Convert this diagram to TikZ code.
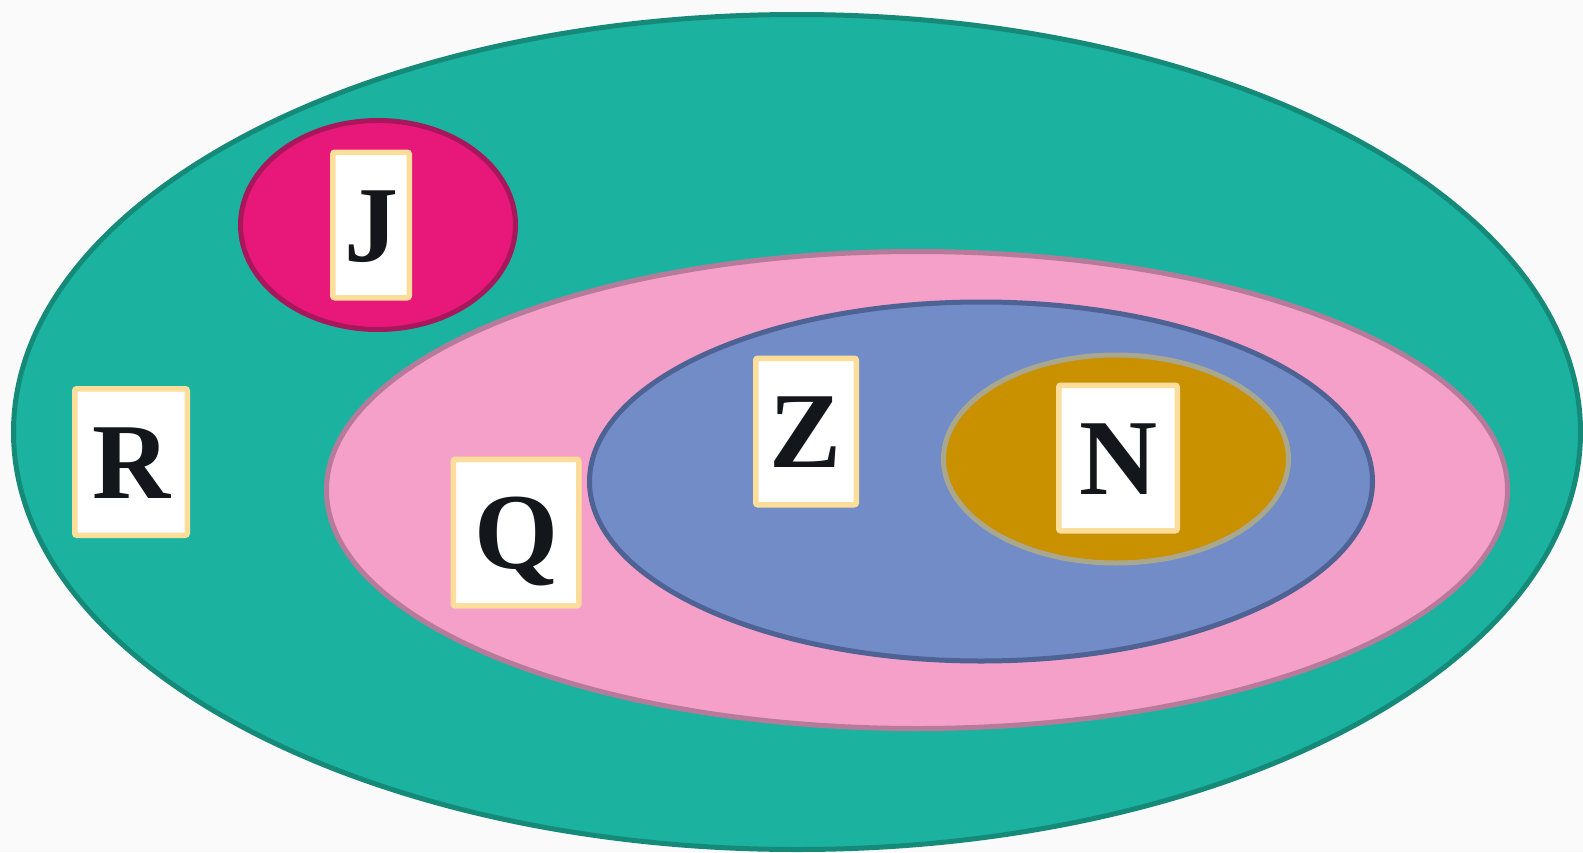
\documentclass[tikz,border=0pt]{standalone}
\usepackage{fontspec}
\setmainfont{Liberation Serif}
\usetikzlibrary{shapes.geometric}
\definecolor{bgpaper}{HTML}{FAFAFA}
\definecolor{tealfill}{HTML}{1BB3A0}
\definecolor{tealedge}{HTML}{168A79}
\definecolor{magfill}{HTML}{E8177A}
\definecolor{magedge}{HTML}{A8175C}
\definecolor{pinkfill}{HTML}{F5A0C9}
\definecolor{pinkedge}{HTML}{B87A9A}
\definecolor{bluefill}{HTML}{728CC8}
\definecolor{blueedge}{HTML}{4E6294}
\definecolor{goldfill}{HTML}{C99000}
\definecolor{goldedge}{HTML}{A9A88E}
\definecolor{tagedge}{HTML}{FCDE9A}
\definecolor{ink}{HTML}{13161A}
\tikzset{
  setblob/.style={ellipse, inner sep=0pt, line width=5pt},
  tag/.style={draw=tagedge, fill=white, line width=5.5pt, rounded corners=2pt,
    inner sep=0pt, text=ink, font=\fontsize{108}{108}\selectfont\bfseries,
    text height=72pt, text depth=0pt},
}
\begin{document}
\begin{tikzpicture}[x=1pt, y=-1pt]
  \fill[bgpaper] (0,0) rectangle (1583,852);
  \useasboundingbox (0,0) rectangle (1583,852);
  % nested sets
  \node[setblob, fill=tealfill, draw=tealedge, minimum width=1567pt, minimum height=835pt] (outer) at (797,432) {};
  \node[setblob, fill=magfill, draw=magedge, minimum width=275pt, minimum height=209pt] (jset) at (378,225) {};
  \node[setblob, fill=pinkfill, draw=pinkedge, minimum width=1181pt, minimum height=477pt] (qset) at (917,490) {};
  \node[setblob, fill=bluefill, draw=blueedge, minimum width=783pt, minimum height=359pt] (zset) at (981,481.5) {};
  \node[setblob, fill=goldfill, draw=goldedge, minimum width=345pt, minimum height=208pt] (nset) at (1116,459) {};
  % labels
  \node[tag, minimum width=112.5pt, minimum height=146.5pt] (R) at (131,462) {R};
  \node[tag, minimum width=76.5pt, minimum height=145.5pt] (J) at (371,225) {J};
  \node[tag, minimum width=125.5pt, minimum height=146.5pt] (Q) at (516,532.5) {Q};
  \node[tag, minimum width=100.5pt, minimum height=146.5pt] (Z) at (806,431.5) {Z};
  \node[tag, minimum width=118.5pt, minimum height=145.5pt] (N) at (1118,458) {N};
\end{tikzpicture}
\end{document}
